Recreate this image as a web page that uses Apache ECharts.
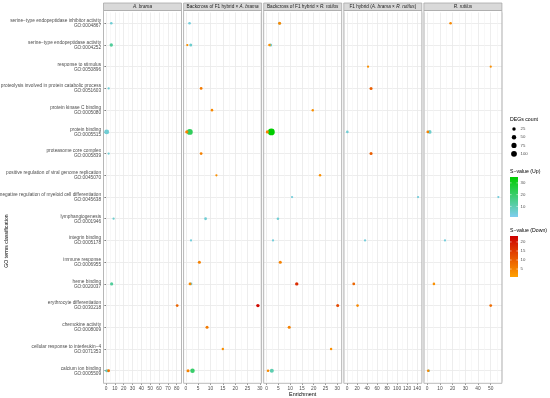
<!DOCTYPE html>
<html><head><meta charset="utf-8">
<script src="https://cdn.jsdelivr.net/npm/echarts@6/dist/echarts.min.js"></script>
<style>html,body{margin:0;padding:0;background:#fff}#c{width:550px;height:398px}</style>
</head><body><div id="c"></div>
<script>
// ---------- data ----------
const termNames = [
 'serine−type endopeptidase inhibitor activity',
 'serine−type endopeptidase activity',
 'response to stimulus',
 'proteolysis involved in protein catabolic process',
 'protein kinase C binding',
 'protein binding',
 'proteasome core complex',
 'positive regulation of viral genome replication',
 'negative regulation of myeloid cell differentiation',
 'lymphangiogenesis',
 'integrin binding',
 'immune response',
 'heme binding',
 'erythrocyte differentiation',
 'chemokine activity',
 'cellular response to interleukin−4',
 'calcium ion binding'
];
const termIds = ['GO:0004867','GO:0004252','GO:0050896','GO:0051603','GO:0005080','GO:0005515','GO:0005839','GO:0045070','GO:0045638','GO:0001946','GO:0005178','GO:0006955','GO:0020037','GO:0030218','GO:0008009','GO:0071353','GO:0005509'];

// panel strip titles: [style, text] pieces (i = italic)
const panelTitles = [
  [['i','A. brama']],
  [['n','Backcross of F1 hybrid × '],['i','A. brama']],
  [['n','Backcross of F1 hybrid × '],['i','R. rutilus']],
  [['n','F1 hybrid ('],['i','A. brama'],['n',' × '],['i','R. rutilus'],['n',')']],
  [['i','R. rutilus']]
];

// each point: [row index, enrichment, DEGs count, S-value]
const bramaUp   = [[0,6,10,5],[1,6,24,13],[3,3,6,5],[5,0.8,67,5],[6,3,6,5],[9,8.6,6,6],[12,6.4,20,13],[16,1,20,8]];
const bramaDown = [[13,80.5,13,9],[16,3,13,7]];
const bcBramaUp   = [[0,1.5,10,4],[1,2,17,6],[5,1.6,107,22],[9,8,13,5],[10,2.1,6,4],[12,2.1,13,5],[16,2.7,53,20]];
const bcBramaDown = [[1,0.6,6,3],[3,6.2,13,6],[4,10.6,10,4],[5,0.4,20,5],[6,6.2,13,5],[7,12.4,6,3],[11,5.5,17,5],[12,1.7,13,4],[13,29.2,24,22],[14,8.6,17,6],[15,15,8,3],[16,0.9,17,5]];
const bcRutilusUp   = [[0,5.5,13,5],[1,1.7,17,6],[5,2,148,35],[8,10.8,6,4],[9,4.8,10,5],[10,2.7,6,4],[16,2.2,40,10]];
const bcRutilusDown = [[0,5.5,17,4],[1,1.2,10,3],[4,19.6,8,3],[5,0.3,17,5],[7,22.7,8,3],[11,5.8,17,5],[12,12.8,24,17],[13,30.2,17,13],[14,9.6,17,5],[15,27.4,8,3],[16,0.6,10,4]];
const f1Up   = [[5,0.6,10,5],[8,142,6,4],[10,36,6,4]];
const f1Down = [[2,42,6,3],[3,48,17,10],[6,48,17,10],[12,13.4,13,9],[13,21,10,4]];
const rutilusUp   = [[5,2,30,6],[8,56,6,4],[10,14,6,4],[16,1.2,10,5]];
const rutilusDown = [[0,18.4,10,4],[2,50,6,3],[5,0.5,13,5],[12,5.3,10,3],[13,50,13,8],[16,0.8,10,4]];

const upSets = [bramaUp, bcBramaUp, bcRutilusUp, f1Up, rutilusUp];
const downSets = [bramaDown, bcBramaDown, bcRutilusDown, f1Down, rutilusDown];

const sizeBreaks = [25, 50, 75, 100];
const upBreaks = [30, 20, 10];
const downBreaks = [20, 15, 10, 5];

// ---------- scales / layout ----------
const xMin = [-2.8, -0.9, -1.25, -6.5, -2.6];
const xMax = [85.4, 30.7, 31.9, 149.5, 58.8];
const xSplit = [8, 6, 6, 7, 6];
const xStep = [10, 5, 5, 20, 10];
const upRange = [1, 35], downRange = [0.6, 23.3];
const upColors = ['#7fcdf0', '#00CD00'];
const downColors = ['#FFA000', '#CD0000'];

const FONT = 'Liberation Sans, Arial, Helvetica, sans-serif';
const PL = 103.5, PW = 78, PSTEP = 80.1;
const GT = 12.45, GH = 369.15;      // grid (row centres exact)
const BT = 10.5, BB = 383.3;        // panel box
const symSize = c => 1.1 + Math.sqrt(c) * 0.47;

const grids = [], xAxes = [], yAxes = [], series = [], graphics = [];
const upIdx = [], downIdx = [];

for (let p = 0; p < 5; p++) {
  const left = PL + PSTEP * p;
  grids.push({left: left, top: GT, width: PW, height: GH, containLabel: false, outerBoundsMode: 'none'});
  xAxes.push({
    gridIndex: p, type: 'value', min: xMin[p], max: xMax[p], splitNumber: xSplit[p],
    offset: BB - (GT + GH),
    axisLine: {show: false},
    axisTick: {show: true, length: 1.5, lineStyle: {color: '#333', width: 0.6}},
    axisLabel: {fontSize: 4.8, color: '#4d4d4d', margin: 2.6, fontFamily: FONT, showMinLabel: false, showMaxLabel: false},
    splitLine: {show: true, lineStyle: {color: '#e8e8e8', width: 0.8}}
  });
  yAxes.push({
    gridIndex: p, type: 'category', inverse: true,
    data: termNames.map((n, i) => n + '\n' + termIds[i]),
    axisLine: {show: false},
    axisTick: {show: p === 0, alignWithLabel: true, length: 1.5, lineStyle: {color: '#333', width: 0.6}},
    axisLabel: {show: p === 0, interval: 0, fontSize: 4.75, lineHeight: 5, color: '#4d4d4d', margin: 2.4, align: 'right', fontFamily: FONT},
    splitLine: {show: true, alignWithLabel: true, lineStyle: {color: '#e8e8e8', width: 0.8}}
  });
  // minor vertical grid lines (half steps)
  const minors = [];
  for (let v = xStep[p] / 2; v < xMax[p]; v += xStep[p]) minors.push(v);
  for (let v = -xStep[p] / 2; v > xMin[p]; v -= xStep[p]) minors.push(v);
  upIdx.push(series.length);
  series.push({
    type: 'scatter', xAxisIndex: p, yAxisIndex: p, z: 3,
    data: upSets[p].map(d => [d[1], d[0], d[2], d[3]]),
    symbolSize: d => symSize(d[2]),
    itemStyle: {opacity: 1},
    markLine: {silent: true, symbol: 'none', label: {show: false}, z: 1,
      lineStyle: {color: '#f3f3f3', width: 0.6, type: 'solid'},
      emphasis: {disabled: true},
      data: minors.map(v => ({xAxis: v}))}
  });
  downIdx.push(series.length);
  series.push({
    type: 'scatter', xAxisIndex: p, yAxisIndex: p, z: 4,
    data: downSets[p].map(d => [d[1], d[0], d[2], d[3]]),
    symbolSize: d => symSize(d[2]),
    itemStyle: {opacity: 1}
  });

  // panel border
  graphics.push({type: 'rect', z: 50, shape: {x: left, y: BT, width: PW, height: BB - BT},
    style: {fill: 'none', stroke: '#a8a8a8', lineWidth: 0.8}});
  // strip
  graphics.push({type: 'rect', z: 50, shape: {x: left, y: 3, width: PW, height: BT - 3},
    style: {fill: '#d9d9d9', stroke: '#a8a8a8', lineWidth: 0.8}});
  const rich = {
    n: {fontSize: 4.7, fontFamily: FONT, fill: '#1a1a1a', fontStyle: 'normal'},
    i: {fontSize: 4.7, fontFamily: FONT, fill: '#1a1a1a', fontStyle: 'italic'}
  };
  graphics.push({type: 'text', z: 51, x: left + PW / 2, y: (3 + BT) / 2 + 0.2,
    style: {text: panelTitles[p].map(s => '{' + s[0] + '|' + s[1] + '}').join(''), rich: rich,
      fontSize: 4.7, fontFamily: FONT, fill: '#1a1a1a', align: 'center', verticalAlign: 'middle'}});
}

// axis titles
graphics.push({type: 'text', x: (PL + PL + PSTEP * 4 + PW) / 2, y: 394.3,
  style: {text: 'Enrichment', fontSize: 5.4, fontFamily: FONT, fill: '#000', align: 'center', verticalAlign: 'middle'}});
graphics.push({type: 'text', x: 7, y: 241, rotation: Math.PI / 2,
  style: {text: 'GO terms classification', fontSize: 5.2, fontFamily: FONT, fill: '#000', align: 'center', verticalAlign: 'middle'}});

// legend: DEGs count
const LX = 510;
graphics.push({type: 'text', x: LX, y: 119.5,
  style: {text: 'DEGs count', fontSize: 5.2, fontFamily: FONT, fill: '#000', align: 'left', verticalAlign: 'middle'}});
const sizeY = [129, 137.2, 145.4, 153.8];
sizeBreaks.forEach((c, i) => {
  graphics.push({type: 'circle', shape: {cx: LX + 4, cy: sizeY[i], r: symSize(c) / 2}, style: {fill: '#000'}});
  graphics.push({type: 'text', x: LX + 10.5, y: sizeY[i],
    style: {text: String(c), fontSize: 4.3, fontFamily: FONT, fill: '#4d4d4d', align: 'left', verticalAlign: 'middle'}});
});

function colorbar(title, titleY, top, bottom, range, colors, breaks) {
  graphics.push({type: 'text', x: LX, y: titleY,
    style: {text: title, fontSize: 5.2, fontFamily: FONT, fill: '#000', align: 'left', verticalAlign: 'middle'}});
  graphics.push({type: 'rect', shape: {x: LX, y: top, width: 8, height: bottom - top},
    style: {fill: {type: 'linear', x: 0, y: 0, x2: 0, y2: 1,
      colorStops: [{offset: 0, color: colors[1]}, {offset: 1, color: colors[0]}]}}});
  breaks.forEach(v => {
    const y = bottom - (v - range[0]) / (range[1] - range[0]) * (bottom - top);
    graphics.push({type: 'line', shape: {x1: LX, y1: y, x2: LX + 1.6, y2: y}, style: {stroke: '#fff', lineWidth: 0.5}});
    graphics.push({type: 'line', shape: {x1: LX + 6.4, y1: y, x2: LX + 8, y2: y}, style: {stroke: '#fff', lineWidth: 0.5}});
    graphics.push({type: 'text', x: LX + 10.5, y: y,
      style: {text: String(v), fontSize: 4.3, fontFamily: FONT, fill: '#4d4d4d', align: 'left', verticalAlign: 'middle'}});
  });
}
colorbar('S−value (Up)', 172, 177, 217, upRange, upColors, upBreaks);
colorbar('S−value (Down)', 231, 236, 277, downRange, downColors, downBreaks);

const chart = echarts.init(document.getElementById('c'), null, {renderer: 'canvas'});
chart.setOption({
  animation: false,
  backgroundColor: '#ffffff',
  grid: grids, xAxis: xAxes, yAxis: yAxes, series: series,
  visualMap: [
    {type: 'continuous', show: false, seriesIndex: upIdx, dimension: 3, min: upRange[0], max: upRange[1], inRange: {color: upColors}},
    {type: 'continuous', show: false, seriesIndex: downIdx, dimension: 3, min: downRange[0], max: downRange[1], inRange: {color: downColors}}
  ],
  graphic: graphics
});
</script></body></html>
